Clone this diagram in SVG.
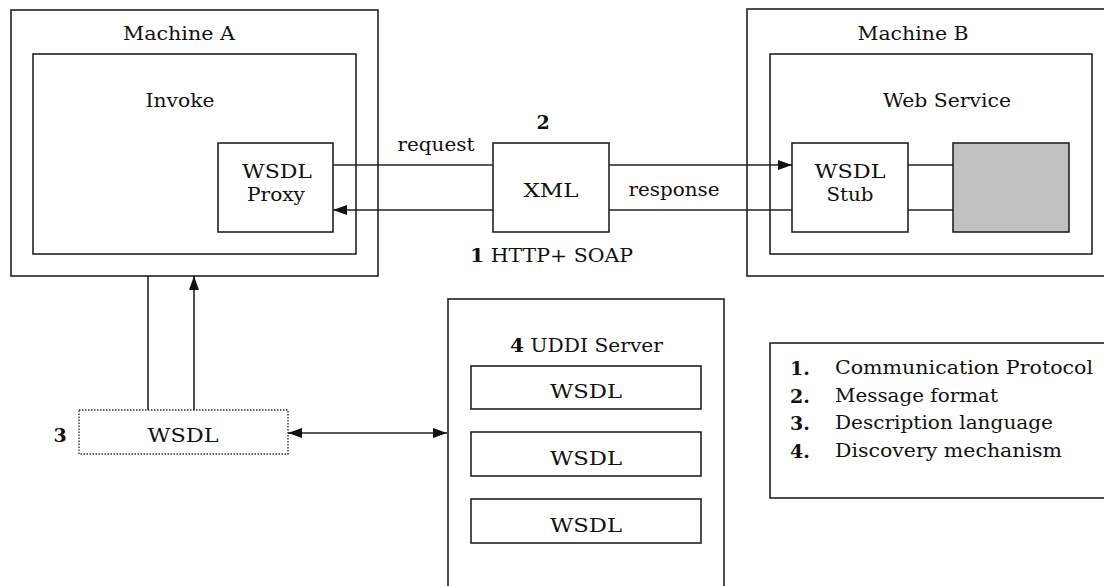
<svg xmlns="http://www.w3.org/2000/svg" width="1104" height="586" viewBox="0 0 1104 586">
<style>
.box{fill:#fff;stroke:#222;stroke-width:1.6}
.gray{fill:#c0c0c0;stroke:#222;stroke-width:1.6}
.dot{fill:#fff;stroke:#333;stroke-width:1.4;stroke-dasharray:1.5 1.5}
.ln{stroke:#222;stroke-width:1.6;fill:none}
.t{font-family:"DejaVu Serif","Liberation Serif",serif;font-size:19px;fill:#111}
.c{text-anchor:middle}
.b{font-weight:bold}
</style>
<defs>
<marker id="ah" viewBox="0 0 14 10" refX="14" refY="5" markerWidth="14" markerHeight="10" markerUnits="userSpaceOnUse" orient="auto-start-reverse">
<path d="M0,0 L14,5 L0,10 Z" fill="#111"/>
</marker>
</defs>
<rect width="1104" height="586" fill="#fff"/>
<g class="t">

<g id="machineA">
<rect class="box" x="11" y="10" width="367" height="266"/>
<text class="c" x="179" y="40" textLength="112" lengthAdjust="spacingAndGlyphs">Machine A</text>
</g>
<g id="invoke">
<rect class="box" x="33" y="54" width="323" height="200"/>
<text class="c" x="180" y="107" textLength="69" lengthAdjust="spacingAndGlyphs">Invoke</text>
</g>
<g id="wsdlProxy">
<rect class="box" x="218" y="143" width="115" height="89"/>
<text class="c" x="277" y="178" textLength="70" lengthAdjust="spacingAndGlyphs">WSDL</text>
<text class="c" x="276" y="201" textLength="58" lengthAdjust="spacingAndGlyphs">Proxy</text>
</g>

<g id="machineB">
<rect class="box" x="747" y="9" width="370" height="267"/>
<text class="c" x="913" y="40" textLength="111" lengthAdjust="spacingAndGlyphs">Machine B</text>
</g>
<g id="webService">
<rect class="box" x="770" y="54" width="322" height="200"/>
<text class="c" x="947" y="107" textLength="128" lengthAdjust="spacingAndGlyphs">Web Service</text>
</g>
<g id="wsdlStub">
<rect class="box" x="792" y="143" width="116" height="89"/>
<text class="c" x="850" y="178" textLength="71" lengthAdjust="spacingAndGlyphs">WSDL</text>
<text class="c" x="850" y="201" textLength="47" lengthAdjust="spacingAndGlyphs">Stub</text>
</g>
<g id="service">
<rect class="gray" x="953" y="143" width="116" height="89"/>
</g>

<g id="xml">
<rect class="box" x="493" y="143" width="116" height="89"/>
<text class="c" x="551" y="197" textLength="55" lengthAdjust="spacingAndGlyphs">XML</text>
<text class="c b" x="543" y="129">2</text>
</g>

<g id="wsdl3">
<rect class="dot" x="79" y="410" width="209" height="44"/>
<text class="c" x="183" y="442" textLength="71" lengthAdjust="spacingAndGlyphs">WSDL</text>
<text class="c b" x="60" y="442">3</text>
</g>

<g id="uddi">
<rect class="box" x="448" y="299" width="276" height="300"/>
<text x="510" y="352" textLength="153" lengthAdjust="spacingAndGlyphs"><tspan class="b">4</tspan> UDDI Server</text>
</g>
<g id="uddiWsdl1">
<rect class="box" x="471" y="366" width="230" height="43"/>
<text class="c" x="586" y="398" textLength="72" lengthAdjust="spacingAndGlyphs">WSDL</text>
</g>
<g id="uddiWsdl2">
<rect class="box" x="471" y="432" width="230" height="44"/>
<text class="c" x="586" y="465" textLength="72" lengthAdjust="spacingAndGlyphs">WSDL</text>
</g>
<g id="uddiWsdl3">
<rect class="box" x="471" y="499" width="230" height="44"/>
<text class="c" x="586" y="532" textLength="72" lengthAdjust="spacingAndGlyphs">WSDL</text>
</g>

<g id="legend">
<rect class="box" x="770" y="343" width="345" height="155"/>
<text class="b" x="790" y="375">1.</text>
<text x="835" y="374" textLength="258" lengthAdjust="spacingAndGlyphs">Communication Protocol</text>
<text class="b" x="790" y="403">2.</text>
<text x="835" y="402" textLength="163" lengthAdjust="spacingAndGlyphs">Message format</text>
<text class="b" x="790" y="430">3.</text>
<text x="835" y="429" textLength="218" lengthAdjust="spacingAndGlyphs">Description language</text>
<text class="b" x="790" y="458">4.</text>
<text x="835" y="457" textLength="227" lengthAdjust="spacingAndGlyphs">Discovery mechanism</text>
</g>

<g id="labels">
<text class="c" x="436" y="151" textLength="77" lengthAdjust="spacingAndGlyphs">request</text>
<text class="c" x="674" y="196" textLength="91" lengthAdjust="spacingAndGlyphs">response</text>
<text x="470" y="262" textLength="163" lengthAdjust="spacingAndGlyphs"><tspan class="b">1</tspan> HTTP+ SOAP</text>
</g>
</g>

<g id="connectors">
<line class="ln" x1="333" y1="165" x2="493" y2="165"/>
<line class="ln" x1="609" y1="165" x2="792" y2="165" marker-end="url(#ah)"/>
<line class="ln" x1="792" y1="210" x2="609" y2="210"/>
<line class="ln" x1="493" y1="210" x2="333" y2="210" marker-end="url(#ah)"/>
<line class="ln" x1="908" y1="165" x2="953" y2="165"/>
<line class="ln" x1="908" y1="210" x2="953" y2="210"/>
<line class="ln" x1="148" y1="276" x2="148" y2="410"/>
<line class="ln" x1="194" y1="410" x2="194" y2="276" marker-end="url(#ah)"/>
<line class="ln" x1="288" y1="433" x2="447" y2="433" marker-start="url(#ah)" marker-end="url(#ah)"/>
</g>
</svg>
